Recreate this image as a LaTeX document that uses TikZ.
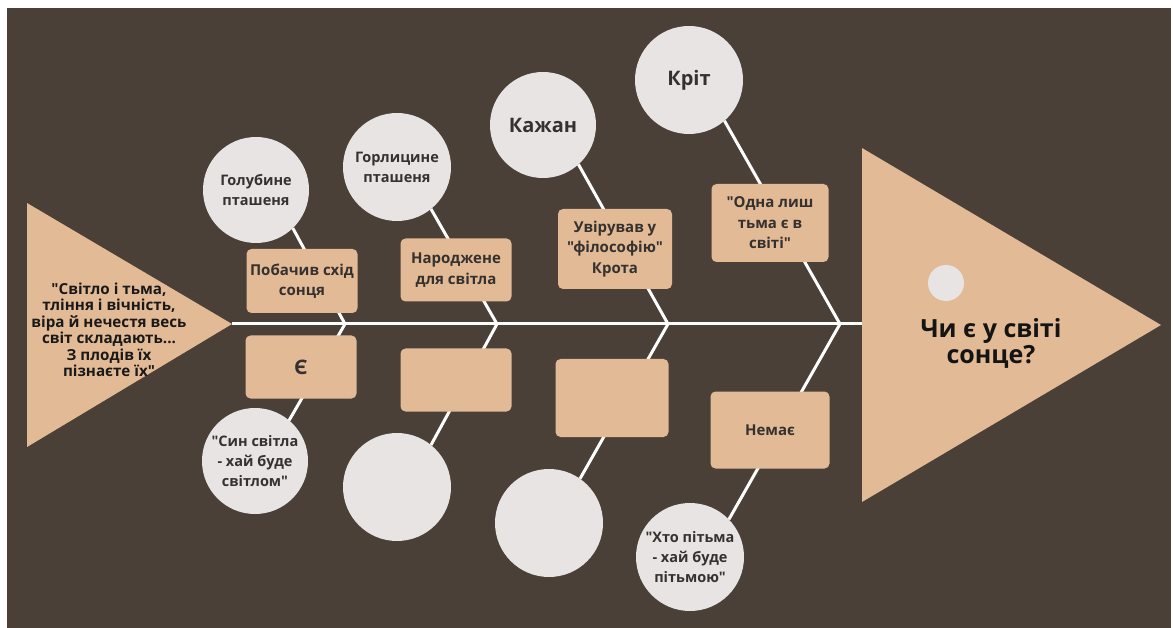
\documentclass[tikz,border=0pt]{standalone}
\usepackage{fontspec}
\setmainfont{Open Sans}[Ligatures=TeXOff]
\definecolor{bark}{HTML}{4A4038}
\definecolor{peach}{HTML}{E2BA96}
\definecolor{pale}{HTML}{E8E4E3}
\definecolor{ink}{HTML}{34312F}
\newcommand{\dq}{\symbol{34}}
\pgfdeclarelayer{back}
\pgfdeclarelayer{ribs}
\pgfsetlayers{back,ribs,main}
\begin{document}
\begin{tikzpicture}[x=1pt, y=-1pt,
  bubble/.style={circle, fill=pale, inner sep=0pt, outer sep=0pt, minimum size=106pt, align=center, text=ink, font=\bfseries\fontsize{14.5}{20}\selectfont},
  tag/.style={rectangle, rounded corners=5pt, fill=peach, inner sep=0pt, outer sep=0pt, minimum width=111pt, minimum height=63pt, align=center, text=ink, font=\bfseries\fontsize{15}{20.5}\selectfont},
  big/.style={font=\bfseries\fontsize{20}{22}\selectfont},
  rib/.style={draw=white, line width=3pt, line join=miter}]
  \useasboundingbox (0,0) rectangle (1173,628);
  \begin{pgfonlayer}{back}
    \fill[white] (0,0) rectangle (1173,628);
    \fill[bark] (7,8) rectangle (1171,628);
  \end{pgfonlayer}

  \fill[peach] (27,203) -- (232,324) -- (27,447) -- cycle;
  \fill[peach] (862,148) -- (1161,325) -- (862,502) -- cycle;
  \coordinate (tip) at (232,324);
  \coordinate (head) at (862,324);
  \coordinate (j1) at (345,324);
  \coordinate (j2) at (497,324);
  \coordinate (j3) at (668,324);
  \coordinate (j4) at (840,324);

  \node[align=center, font=\bfseries\fontsize{15.2}{16.5}\selectfont, text=black!90] (tail) at (109,330) {\dq Світло і тьма,\\тління і вічність,\\віра й нечестя весь\\світ складають...\\З плодів їх\\пізнаєте їх\dq};
  \node[circle, fill=pale, minimum size=36pt, inner sep=0pt] (eye) at (946,283) {};
  \node[align=center, font=\bfseries\fontsize{25}{26}\selectfont, text=black!92] (q) at (991,343) {Чи є у світі\\сонце?};

  \node[bubble] (c1) at (256,190) {Голубине\\пташеня};
  \node[bubble, minimum size=108pt] (c2) at (397,167) {Горлицине\\пташеня};
  \node[bubble, big] (c3) at (543,125) {Кажан};
  \node[bubble, big, minimum size=108pt] (c4) at (689,80) {Кріт};
  \node[bubble] (c5) at (255,461) {\dq Син світла\\- хай буде\\світлом\dq};
  \node[bubble, minimum size=108pt] (c6) at (397,487) {};
  \node[bubble, minimum size=108pt] (c7) at (549,523) {};
  \node[bubble, minimum size=108pt] (c8) at (690,557) {\dq Хто пітьма\\- хай буде\\пітьмою\dq};

  \node[tag, minimum height=64pt] (b1) at (302,281) {Побачив схід\\сонця};
  \node[tag] (b2) at (456,270) {Народжене\\для світла};
  \node[tag, minimum width=114pt, minimum height=80pt] (b3) at (615,249) {Увірував у\\\dq філософію\dq\\Крота};
  \node[tag, minimum width=117pt, minimum height=78pt] (b4) at (770,223) {\dq Одна лиш\\тьма є в\\світі\dq};
  \node[tag, big] (b5) at (301,367) {Є};
  \node[tag] (b6) at (456,380) {};
  \node[tag, minimum width=113pt, minimum height=78pt] (b7) at (612,398) {};
  \node[tag, minimum width=119pt, minimum height=77pt] (b8) at (770,430) {Немає};

  \begin{pgfonlayer}{ribs}
    \draw[rib] (tip) -- (head);
    \draw[rib] (c1.-46) -- (j1) -- (c5.50);
    \draw[rib] (c2.-51) -- (j2) -- (c6.51);
    \draw[rib] (c3.-48) -- (j3) -- (c7.55);
    \draw[rib] (c4.-49) -- (j4) -- (c8.44);
  \end{pgfonlayer}
\end{tikzpicture}
\end{document}
